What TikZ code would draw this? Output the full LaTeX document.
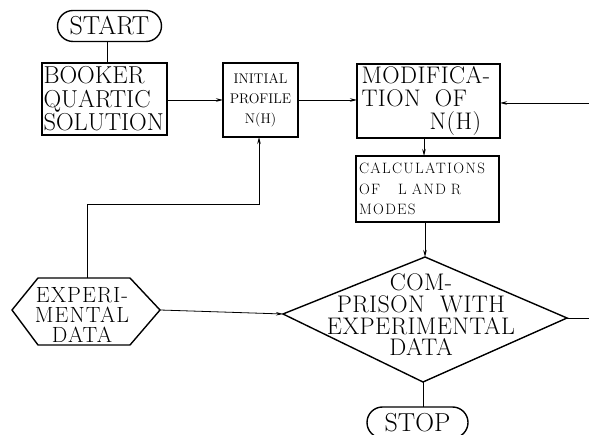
\documentclass[tikz,border=0pt]{standalone}
\usepackage{fontspec}
\setmainfont{Latin Modern Roman}
\usetikzlibrary{arrows.meta,shapes.misc}
\begin{document}
\begin{tikzpicture}[x=1pt,y=-1pt,
  box/.style={draw,line width=1.4pt,inner sep=0pt,outer sep=0pt},
  term/.style={draw,line width=1.4pt,rounded rectangle,inner sep=0pt,outer sep=0pt,
    minimum height=31pt,font=\fontsize{26}{28}\selectfont},
  conn/.style={line width=0.8pt},
  arr/.style={conn,-{Stealth[length=7pt,width=3.5pt]}},
  shp/.style={line width=1.4pt,line join=miter}]
\useasboundingbox (0,0) rectangle (589,435);
\clip (0,0) rectangle (589,435);

% terminals
\node[term,minimum width=104pt] (start) at (109.5,26) {START};
\node[term,minimum width=101pt] (stop) at (417.5,422.5) {STOP};

% boxes
\node[box,minimum width=125pt,minimum height=72pt,text width=122pt,align=left,
  font=\fontsize{24.5}{23.5}\selectfont] (booker) at (104.5,99)
  {BOOKER\\QUARTIC\\SOLUTION};
\node[box,minimum width=75pt,minimum height=74pt,align=center,
  font=\fontsize{14}{20}\selectfont] (init) at (260.5,100)
  {INITIAL\\PROFILE\\N(H)};
\node[box,minimum width=143pt,minimum height=74pt,text width=134pt,align=left,
  font=\fontsize{24}{23}\selectfont\addfontfeature{LetterSpace=2}] (mod) at (428.5,101)
  {MODIFICA-\\TION\hspace{14pt}OF\\\hspace*{68pt}N(H)};
\node[box,minimum width=143pt,minimum height=66pt,text width=137pt,align=left,
  font=\fontsize{15}{20.5}\selectfont\addfontfeature{LetterSpace=9}] (calc) at (427.5,189)
  {CALCULATIONS\\OF\hspace{18pt}L\ AND\ R\\MODES};

% diamond
\coordinate (cmpT) at (425,257);
\coordinate (cmpR) at (567,318);
\coordinate (cmpB) at (423,382);
\coordinate (cmpL) at (283,314);
\draw[shp] (cmpT) -- (cmpR) -- (cmpB) -- (cmpL) -- cycle;
\node[align=center,font=\fontsize{24}{21.7}\selectfont\addfontfeature{LetterSpace=2},inner sep=0pt] (cmp) at (421,315)
  {COM-\\PRISON\ \ WITH\\EXPERIMENTAL\\DATA};

% hexagon
\coordinate (hexL) at (12,310);
\coordinate (hexTL) at (38,278);
\coordinate (hexTR) at (130,278);
\coordinate (hexR) at (160,310);
\coordinate (hexBR) at (130,345);
\coordinate (hexBL) at (38,345);
\draw[shp] (hexL) -- (hexTL) -- (hexTR) -- (hexR) -- (hexBR) -- (hexBL) -- cycle;
\node[align=center,font=\fontsize{22}{20}\selectfont\addfontfeature{LetterSpace=5},inner sep=0pt] (exp) at (82,315)
  {EXPERI-\\MENTAL\\DATA};
\coordinate (hexTop) at (87,278);

% connectors
\coordinate (rin) at (589,103);
\coordinate (rout) at (589,318);
\coordinate (bendA) at (87,204);
\coordinate (bendB) at (259,204);
\coordinate (midx) at (424,0);
\coordinate (topx) at (107,0);
\coordinate (row) at (0,100);

\draw[conn] (start.south -| topx) -- (booker.north -| topx);
\draw[arr] (booker.east |- row) -- (init.west |- row);
\draw[arr] (init.east |- row) -- (mod.west |- row);
\draw[arr] (rin) -- (rin -| mod.east);
\draw[arr] (mod.south -| midx) -- (calc.north -| midx);
\draw[arr] (calc.south -| cmpT) -- (cmpT);
\draw[conn] (cmpB) -- (stop.north -| cmpB);
\draw[conn] (cmpR) -- (rout);
\draw[arr] (hexR) -- (cmpL);
\draw[arr] (hexTop) -- (bendA) -- (bendB) -- (init.south -| bendB);
\end{tikzpicture}
\end{document}
